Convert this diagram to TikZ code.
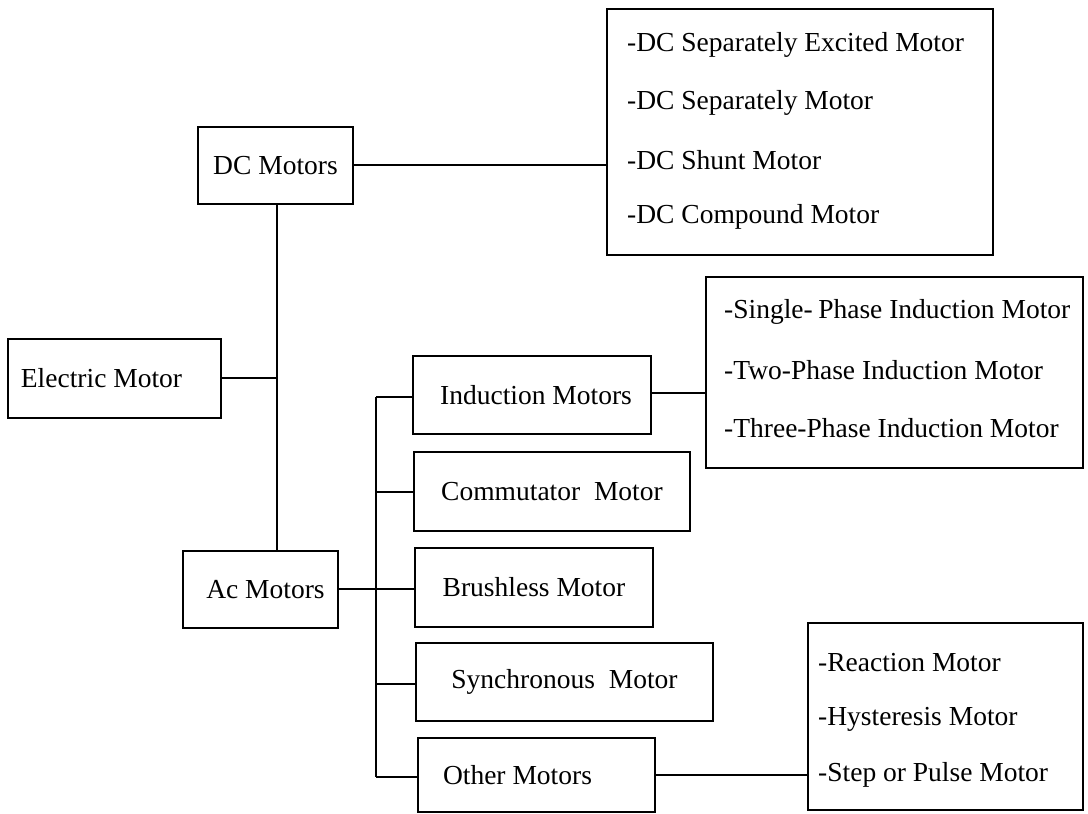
\documentclass[tikz,border=0pt]{standalone}
\usepackage{fontspec}
\setmainfont{Liberation Serif}
\begin{document}
\begin{tikzpicture}[x=1pt,y=-1pt,
  box/.style={draw=black, line width=1.6pt, rectangle, inner sep=0pt, font=\fontsize{27.5}{33}\selectfont},
  item/.style={anchor=west, inner sep=0pt, font=\fontsize{27.5}{33}\selectfont},
  conn/.style={draw=black, line width=1.6pt}]
\useasboundingbox[fill=white] (0,0) rectangle (1088,814);

% main boxes
\node[box, minimum width=155pt, minimum height=77pt] (dc) at (275.5,165.5) {DC Motors};
\node[box, minimum width=213pt, minimum height=79pt] (em) at (114.5,378.5) {Electric Motor\hspace*{26pt}};
\node[box, minimum width=155pt, minimum height=77pt] (ac) at (260.5,589.5) {\hspace*{10pt}Ac Motors};

\node[box, minimum width=238pt, minimum height=78pt] (ind) at (532,395) {\hspace*{8pt}Induction Motors};
\node[box, minimum width=276pt, minimum height=79pt] (com) at (552,491.5) {Commutator\hspace{0.25em} Motor};
\node[box, minimum width=238pt, minimum height=79pt] (bru) at (534,587.5) {Brushless Motor};
\node[box, minimum width=297pt, minimum height=78pt] (syn) at (564.5,682) {Synchronous\hspace{0.25em} Motor};
\node[box, minimum width=237pt, minimum height=74pt] (oth) at (536.5,775) {Other Motors\hspace*{38pt}};

% list boxes
\node[box, minimum width=386pt, minimum height=246pt] (dcl) at (800,132) {};
\node[item] (dcl1) at (627,45) {-DC Separately Excited Motor};
\node[item] (dcl2) at (627,103) {-DC Separately Motor};
\node[item] (dcl3) at (627,160) {-DC Shunt Motor};
\node[item] (dcl4) at (627,217) {-DC Compound Motor};

\node[box, minimum width=377pt, minimum height=191pt] (inl) at (894.5,372.5) {};
\node[item] (inl1) at (724,312) {-Single-\hspace{-0.05em} Phase Induction Motor};
\node[item] (inl2) at (724,370) {-Two-Phase Induction Motor};
\node[item] (inl3) at (724,428) {-Three-Phase Induction Motor};

\node[box, minimum width=275pt, minimum height=187pt] (otl) at (945.5,716.5) {};
\node[item] (otl1) at (818,663) {-Reaction Motor};
\node[item] (otl2) at (818,719) {-Hysteresis Motor};
\node[item] (otl3) at (818,775) {-Step or Pulse Motor};

% trunk coordinates
\coordinate (t1) at (277,204);
\coordinate (t2) at (277,551);
\coordinate (tem) at (277,378);
\coordinate (s1) at (376,397);
\coordinate (s2) at (376,777);
\coordinate (sc) at (376,492);
\coordinate (ss) at (376,684);

% connectors
\draw[conn] (dc.east |- 0,165) -- (dcl.west |- 0,165);
\draw[conn] (t1) -- (t2);
\draw[conn] (em.east |- tem) -- (tem);
\draw[conn] (ac.east |- 0,589) -- (bru.west |- 0,589);
\draw[conn] (s1) -- (s2);
\draw[conn] (s1) -- (ind.west |- s1);
\draw[conn] (sc) -- (com.west |- sc);
\draw[conn] (ss) -- (syn.west |- ss);
\draw[conn] (s2) -- (oth.west |- s2);
\draw[conn] (ind.east |- 0,393) -- (inl.west |- 0,393);
\draw[conn] (oth.east |- 0,775) -- (otl.west |- 0,775);
\end{tikzpicture}
\end{document}
